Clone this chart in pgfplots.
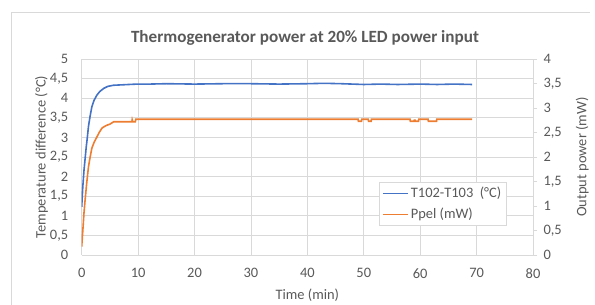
\documentclass[border=0pt]{standalone}
\usepackage{pgfplots}
\pgfplotsset{compat=1.18}
\usepackage{fontspec}
\setmainfont{Carlito}
\definecolor{txt}{HTML}{595959}
\definecolor{gridc}{HTML}{D9D9D9}
\definecolor{frame}{HTML}{D9D9D9}
\definecolor{xblue}{HTML}{4472C4}
\definecolor{xorange}{HTML}{ED7D31}
\begin{document}
\begin{tikzpicture}
\useasboundingbox (0,0) rectangle (595bp,305bp);
\draw[frame, line width=0.75bp] (11bp,0bp) -- (11bp,293bp) -- (590bp,293bp);
\node[text=txt, font=\fontsize{17.2}{20}\selectfont\bfseries] at (305bp,267bp) {Thermogenerator power at 20\% LED power input};
\begin{axis}[
  at={(81.7bp,50bp)}, anchor=south west,
  width=451.3bp, height=196bp, scale only axis,
  xmin=0, xmax=80, ymin=0, ymax=5,
  xtick={0,10,...,80}, ytick={0,0.5,...,5},
  grid=major, major grid style={gridc, line width=0.75bp},
  axis line style={draw=none},
  major tick length=0,
  tick label style={text=txt, font=\fontsize{14.5}{17}\selectfont},
  /pgf/number format/.cd, use comma, 1000 sep={}, assume math mode=true,
  /pgfplots/.cd,
  yticklabel style={xshift=-10bp},
  xticklabel style={yshift=-10bp},
  xlabel={Time (min)}, ylabel={Temperature difference (°C)},
  label style={text=txt, font=\fontsize{14.5}{17}\selectfont},
  xlabel style={at={(axis description cs:0.5,-0.2045)}, anchor=center},
  ylabel style={at={(axis description cs:-0.089,0.5)}, anchor=center},
]
\addplot[xblue, line width=1.6bp] coordinates {
(0,1.23)(0.2,1.75)(0.4,2.15)(0.6,2.45)(0.8,2.75)(1.0,3.0)(1.2,3.28)(1.5,3.55)(1.8,3.78)(2.2,3.95)(2.7,4.08)(3.2,4.17)(3.9,4.25)(4.6,4.3)(5.6,4.33)(7,4.34)(9.8,4.36)(12,4.36)(15,4.37)(20,4.36)(25,4.37)(30,4.37)(35,4.36)(40,4.37)(43,4.38)(46,4.37)(50,4.35)(53,4.36)(56,4.35)(60,4.36)(63,4.35)(66,4.36)(69.2,4.35)
};
\end{axis}
\begin{axis}[
  at={(81.7bp,50bp)}, anchor=south west,
  width=451.3bp, height=196bp, scale only axis,
  xmin=0, xmax=80, ymin=0, ymax=4,
  axis x line=none, axis y line*=right,
  ytick={0,0.5,...,4},
  axis line style={gridc, line width=0.75bp},
  tick style={gridc, line width=0.75bp},
  major tick length=4bp, tick align=outside,
  tick label style={text=txt, font=\fontsize{14.5}{17}\selectfont},
  /pgf/number format/.cd, use comma, 1000 sep={}, assume math mode=true,
  /pgfplots/.cd,
  yticklabel style={xshift=3bp},
  ylabel={Output power (mW)},
  label style={text=txt, font=\fontsize{14.5}{17}\selectfont},
  ylabel style={at={(axis description cs:1.109,0.5)}, anchor=center},
  legend style={at={(0.659,0.372)}, anchor=north west, draw=gridc, fill=white,
    text=txt, font=\fontsize{14.5}{17}\selectfont, inner sep=3bp, row sep=5bp},
  legend cell align=left,
  legend image code/.code={\draw[#1] (0bp,0bp) -- (25bp,0bp);},
]
\addlegendimage{xblue, line width=1.6bp}
\addlegendentry{T102-T103\ \ (°C)}
\addplot[xorange, line width=1.6bp] coordinates {
(0,0.17)(0.2,0.5)(0.4,0.85)(0.6,1.12)(0.9,1.48)(1.2,1.8)(1.5,2.0)(1.8,2.18)(2.2,2.3)(2.7,2.41)(3.1,2.5)(3.6,2.59)(4.0,2.62)(4.5,2.65)(5.0,2.67)(5.4,2.70)(5.7,2.72)(8.9,2.72)(8.95,2.76)(9.05,2.72)(9.5,2.72)(9.6,2.77)
(49.0,2.77)(49.05,2.73)(49.6,2.73)(49.65,2.77)(50.8,2.77)(50.85,2.73)(51.3,2.73)(51.35,2.77)
(58.2,2.77)(58.25,2.73)(58.9,2.73)(58.95,2.75)(59.1,2.75)(59.15,2.73)(59.7,2.73)(59.75,2.77)
(61.4,2.77)(61.45,2.73)(62.9,2.73)(62.95,2.77)(69.2,2.77)
};
\addlegendentry{Ppel (mW)}
\end{axis}
\end{tikzpicture}
\end{document}
